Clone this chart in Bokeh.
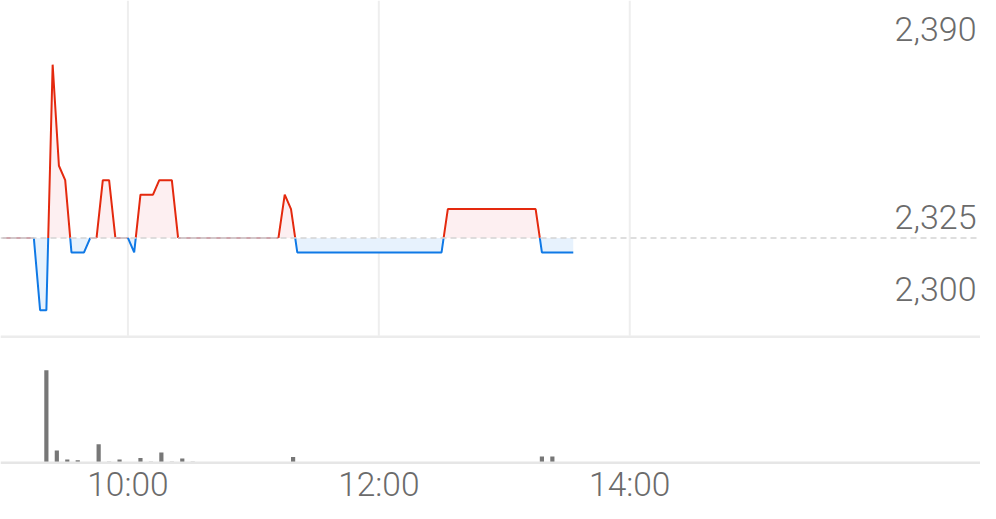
from bokeh.plotting import figure
from bokeh.models import Range1d, Span
from bokeh.core.properties import value
from bokeh.embed import file_html
from bokeh.resources import INLINE

# ---------------- data ----------------
prev_close = 2325
price_times = ["09:00", "09:15", "09:18", "09:21", "09:24", "09:27", "09:30", "09:33",
               "09:39", "09:42", "09:45", "09:48", "09:51", "09:54", "10:00", "10:03",
               "10:06", "10:12", "10:15", "10:21", "10:24", "11:12", "11:15", "11:18",
               "11:21", "12:30", "12:33", "13:15", "13:18", "13:33"]
price_values = [2325, 2325, 2300, 2300, 2385, 2350, 2345, 2320,
                2320, 2325, 2325, 2345, 2345, 2325, 2325, 2320,
                2340, 2340, 2345, 2345, 2325, 2325, 2340, 2335,
                2320, 2320, 2335, 2335, 2320, 2320]

vol_times = ["09:21", "09:26", "09:31", "09:36", "09:46", "09:51", "09:56", "10:06",
             "10:11", "10:16", "10:21", "10:26", "10:31", "11:19", "13:18", "13:23"]
vol_values = [95000, 12300, 3000, 2000, 18700, 700, 3000, 4500,
              700, 10000, 700, 4000, 700, 5500, 6000, 6000]

time_ticks = ["10:00", "12:00", "14:00"]
price_ticks = [2390, 2325, 2300]

# ---------------- layout constants ----------------
W, H = 980, 503
REF_W, REF_H = 996, 519
X0_REF = 2.0        # position of 09:00
PPM = 2.125         # px per minute (reference)
BASE_Y_REF = 245.0  # baseline row
PPU = 2.98          # px per price unit
VOL_BASE_REF = 476.5
VPP = 1000.0        # volume units per px

RED = "#e4290e"
BLUE = "#0f79e6"
FLAT = "#cfa6ad"
TXT = "#6b6b6b"
FONT = value("Roboto Light")


def to_min(s):
    h, m = s.split(":")
    return (int(h) - 9) * 60 + int(m)


x_start = -X0_REF / PPM
x_end = (REF_W - X0_REF) / PPM

p = figure(width=W, height=H,
           x_range=Range1d(x_start, x_end),
           y_range=Range1d(prev_close - (REF_H - BASE_Y_REF) / PPU,
                           prev_close + BASE_Y_REF / PPU),
           output_backend="svg", toolbar_location=None,
           x_axis_location=None, y_axis_location=None,
           min_border=0, outline_line_color=None)
p.grid.visible = False
p.background_fill_color = "white"
p.extra_y_ranges = {
    "px": Range1d(REF_H, 0),
    "vol": Range1d(-(REF_H - VOL_BASE_REF) * VPP, VOL_BASE_REF * VPP),
}

# vertical grid lines (price panel only)
tick_x = [to_min(t) for t in time_ticks]
p.segment(x0=tick_x, y0=[0] * len(tick_x), x1=tick_x, y1=[346] * len(tick_x),
          y_range_name="px", line_color="#eeeeee", line_width=2)

# panel separators
p.add_layout(Span(location=347, dimension="width", y_range_name="px",
                  line_color="#ececec", line_width=2.5))
p.add_layout(Span(location=477, dimension="width", y_range_name="px",
                  line_color="#e6e6e6", line_width=2.5))

# ---------------- price line, split at baseline ----------------
xs = [to_min(t) for t in price_times]
ys = price_values
base = prev_close
ax, ay = [xs[0]], [ys[0]]
for i in range(1, len(xs)):
    x0, y0, x1, y1 = xs[i - 1], ys[i - 1], xs[i], ys[i]
    if (y0 - base) * (y1 - base) < 0:
        xc = x0 + (base - y0) / (y1 - y0) * (x1 - x0)
        ax.append(xc)
        ay.append(base)
    ax.append(x1)
    ay.append(y1)

n = len(ax)
p.varea(x=ax, y1=[base] * n, y2=[max(v, base) for v in ay],
        fill_color="#fdeff1")
p.varea(x=ax, y1=[min(v, base) for v in ay], y2=[base] * n,
        fill_color="#e7f2fd")

p.add_layout(Span(location=base, dimension="width", line_color="#d3d3d3",
                  line_width=1.5, line_dash="6 4"))

groups = []
for i in range(1, n):
    y0, y1 = ay[i - 1], ay[i]
    if max(y0, y1) > base:
        cls = "up"
    elif min(y0, y1) < base:
        cls = "down"
    else:
        cls = "flat"
    if groups and groups[-1][0] == cls:
        groups[-1][1].append(ax[i])
        groups[-1][2].append(ay[i])
    else:
        groups.append((cls, [ax[i - 1], ax[i]], [ay[i - 1], ay[i]]))

cmap = {"up": RED, "down": BLUE, "flat": FLAT}
p.multi_line(xs=[g[1] for g in groups], ys=[g[2] for g in groups],
             line_color=[cmap[g[0]] for g in groups], line_width=2)

# ---------------- volume ----------------
p.vbar(x=[to_min(t) for t in vol_times], width=2.0, top=vol_values, bottom=0,
       y_range_name="vol", fill_color="#777777", line_color=None)

# ---------------- labels ----------------
p.text(x=tick_x, y=[499] * len(tick_x), text=time_ticks, y_range_name="px",
       text_align="center", text_baseline="middle", text_font=FONT,
       text_font_size="33.5px", text_color=TXT)

p.text(x=[x_end] * len(price_ticks), y=price_ticks,
       text=[f"{v:,}" for v in price_ticks],
       text_align="right", text_baseline="middle", x_offset=-4, y_offset=-21,
       text_font=FONT, text_font_size="34px", text_color=TXT)

open("out.html", "w").write(file_html(p, INLINE))
